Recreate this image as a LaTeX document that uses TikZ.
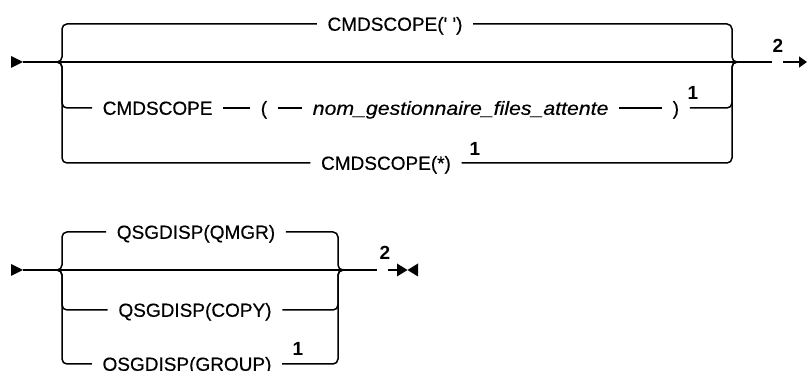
\documentclass[tikz,border=0pt]{standalone}
\usepackage{fontspec}
\setmainfont{Liberation Sans}
\newfontfamily\railfont{Liberation Sans}[FakeBold=0.4]
\usetikzlibrary{arrows.meta}
\begin{document}
\begin{tikzpicture}[x=1pt,y=-1pt,line width=1.5pt,
  lbl/.style={font=\railfont\fontsize{19}{22}\selectfont, text height=13.6pt, text depth=0pt, inner ysep=0pt, inner xsep=10pt},
  note/.style={font=\fontsize{19}{21}\selectfont\bfseries, inner sep=0pt},
  rail/.style={rounded corners=5pt},
  tip/.style={-{Triangle[length=8pt,width=11pt]}}]
\useasboundingbox (0,0) rectangle (807,371);
% ---------- top diagram ----------
\coordinate (s1) at (23,62);
\coordinate (L1) at (55,62);
\coordinate (R1) at (740,62);
\coordinate (j1) at (772,62);
\coordinate (a1) at (783,62);
\coordinate (a1e) at (807,62);
\fill (11,56) -- (s1) -- (11,68) -- cycle;
\draw (s1) -- (j1);
\node[note] (e1) at (778,46) {2};
\draw[tip] (a1) -- (a1e);
% branch 1
\node[lbl] (t1) at (395,24) {CMDSCOPE(\textquotesingle\ \textquotesingle)};
\draw[rail] (L1) -- (62,62) -- (62,24) -- (t1.west);
\draw[rail] (t1.east) -- (732,24) -- (732,62) -- (R1);
% branch 2
\node[lbl,anchor=west] (n1) at (92,108) {CMDSCOPE};
\node[lbl,anchor=west] (n2) at (250,108) {(};
\node[lbl,anchor=west] (n3) at (302,108) {\scalebox{1.12}[1]{\itshape nom\_gestionnaire\_files\_attente}};
\node[lbl,anchor=west] (n4) at (662,108) {)};
\node[note] (f1) at (693,93) {1};
\draw[rail] (L1) -- (62,62) -- (62,108) -- (n1.west);
\draw (n1.east) -- (n2.west);
\draw (n2.east) -- (n3.west);
\draw (n3.east) -- (n4.west);
\draw[rail] (n4.east) -- (732,108) -- (732,62) -- (R1);
% branch 3
\node[lbl] (n5) at (386,163) {CMDSCOPE(*)};
\node[note] (f2) at (475,149) {1};
\draw[rail] (L1) -- (62,62) -- (62,163) -- (n5.west);
\draw[rail] (n5.east) -- (732,163) -- (732,62) -- (R1);
% ---------- bottom diagram ----------
\coordinate (s2) at (23,270);
\coordinate (L2) at (55,270);
\coordinate (R2) at (345,270);
\coordinate (j2) at (377,270);
\coordinate (k2) at (388,270);
\coordinate (m2) at (397,270);
\fill (11,264) -- (s2) -- (11,276) -- cycle;
\draw (s2) -- (j2);
\node[note] (e2) at (385,253) {2};
\draw (k2) -- (m2);
\fill (397,263.5) -- (407.5,270) -- (397,276.5) -- cycle;
\fill (418,263.5) -- (407.5,270) -- (418,276.5) -- cycle;
\node[lbl] (q1) at (196,232) {QSGDISP(QMGR)};
\node[lbl] (q2) at (195,310) {QSGDISP(COPY)};
\node[lbl] (q3) at (187,364) {QSGDISP(GROUP)};
\node[note] (f3) at (298,349) {1};
\draw[rail] (L2) -- (62,270) -- (62,232) -- (q1.west);
\draw[rail] (q1.east) -- (338,232) -- (338,270) -- (R2);
\draw[rail] (L2) -- (62,270) -- (62,310) -- (q2.west);
\draw[rail] (q2.east) -- (338,310) -- (338,270) -- (R2);
\draw[rail] (L2) -- (62,270) -- (62,364) -- (q3.west);
\draw[rail] (q3.east) -- (338,364) -- (338,270) -- (R2);
\end{tikzpicture}
\end{document}
